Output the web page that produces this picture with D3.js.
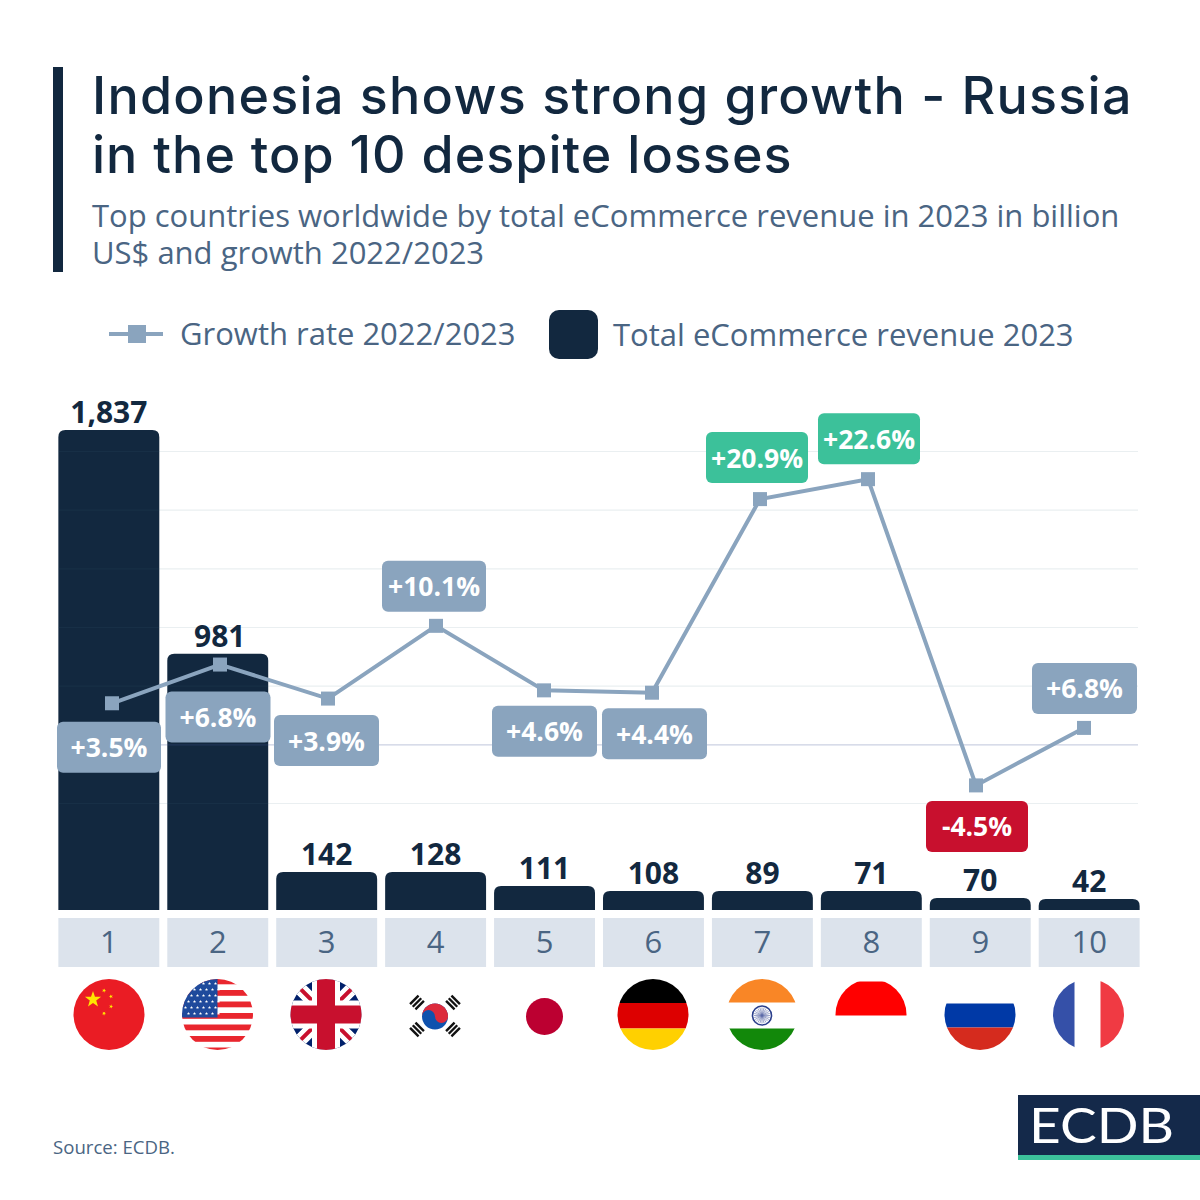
<!DOCTYPE html>
<html>
<head>
<meta charset="utf-8">
<script src="https://cdn.jsdelivr.net/npm/d3@7"></script>
<style>
  html, body { margin: 0; padding: 0; background: #fff; }
  svg { display: block; }
  text { font-family: "Open Sans", sans-serif; }
</style>
</head>
<body>
<svg id="chart" width="1200" height="1200"></svg>
<script>
const ranks = ['1', '2', '3', '4', '5', '6', '7', '8', '9', '10'];
const flags = ['cn', 'us', 'gb', 'kr', 'jp', 'de', 'in', 'id', 'ru', 'fr'];
const revenueLabels = ['1,837', '981', '142', '128', '111', '108', '89', '71', '70', '42'];
// bar heights as drawn in the picture (small bars are not exactly to scale there)
const revenueDrawn = [1837, 981, 145, 145, 92, 73, 73, 73, 46, 42];
const growthLabels = ['+3.5%', '+6.8%', '+3.9%', '+10.1%', '+4.6%', '+4.4%', '+20.9%', '+22.6%', '-4.5%', '+6.8%'];
// line positions as drawn, the last two sit away from their printed labels
const growthDrawn = [3.5, 6.8, 3.9, 10.1, 4.6, 4.4, 20.9, 22.6, -3.5, 1.4];
const gridTicks = [-5, 0, 5, 10, 15, 20, 25];

const navy = '#12283f';
const slate = '#4a6583';
const steel = '#8aa4be';
const green = '#3cc19a';
const red = '#c8102e';

const svg = d3.select('#chart');

// header
svg.append('rect').attr('x', 53).attr('y', 67).attr('width', 10).attr('height', 205).attr('fill', navy);
const titleLines = ['Indonesia shows strong growth - Russia', 'in the top 10 despite losses'];
const titleSpacing = [1.25, 1.02];
titleLines.forEach((t, i) => {
  svg.append('text').attr('x', 92).attr('y', 114 + i * 59)
    .attr('font-size', 52).attr('font-weight', 500).attr('fill', navy)
    .style('font-family', 'Inter, sans-serif')
    .attr('letter-spacing', titleSpacing[i])
    .text(t);
});
const subLines = ['Top countries worldwide by total eCommerce revenue in 2023 in billion', 'US$ and growth 2022/2023'];
subLines.forEach((t, i) => {
  svg.append('text').attr('x', 92).attr('y', 227 + i * 37)
    .attr('font-size', 31).attr('fill', slate).text(t);
});

// legend
svg.append('line').attr('x1', 109).attr('x2', 163).attr('y1', 334).attr('y2', 334)
  .attr('stroke', steel).attr('stroke-width', 4);
svg.append('rect').attr('x', 128).attr('y', 325).attr('width', 18).attr('height', 18).attr('fill', steel);
svg.append('text').attr('x', 180).attr('y', 345).attr('font-size', 31).attr('fill', slate).text('Growth rate 2022/2023');
svg.append('rect').attr('x', 549).attr('y', 310).attr('width', 49).attr('height', 49).attr('rx', 10).attr('fill', navy);
svg.append('text').attr('x', 613).attr('y', 346).attr('font-size', 31).attr('fill', slate).text('Total eCommerce revenue 2023');

// scales
const x = d3.scaleBand().domain(ranks).range([54, 1144]).paddingInner(8 / 109).paddingOuter(0.04);
const yBar = d3.scaleLinear().domain([0, 1837]).range([910, 430]);
const xLine = d3.scalePoint().domain(ranks).range([112, 1084]);
const yLine = d3.scaleLinear().domain([-5, 25]).range([803, 451]);

// bars, rounded on top only
function barPath(d, i) {
  const x0 = x(ranks[i]), w = x.bandwidth(), y0 = yBar(d), y1 = yBar(0);
  const r = Math.min(7, y1 - y0);
  return `M${x0},${y1}V${y0 + r}Q${x0},${y0} ${x0 + r},${y0}H${x0 + w - r}Q${x0 + w},${y0} ${x0 + w},${y0 + r}V${y1}Z`;
}
svg.append('g').selectAll('path').data(revenueDrawn).join('path')
  .attr('d', barPath).attr('fill', navy);

// grid goes over the bars, very faint there
const grid = svg.append('g')
  .attr('transform', 'translate(58,0)')
  .call(d3.axisRight(yLine).tickValues(gridTicks).tickSize(1080).tickFormat(''));
grid.select('.domain').remove();
grid.selectAll('line')
  .attr('stroke', d => d === 0 ? 'rgba(70,90,150,0.28)' : 'rgba(60,110,130,0.11)')
  .attr('stroke-width', 1.2);

// value labels
svg.append('g').selectAll('text').data(revenueLabels).join('text')
  .attr('x', (d, i) => x(ranks[i]) + x.bandwidth() / 2 + (i === 1 ? 2 : 0))
  .attr('y', (d, i) => yBar(revenueDrawn[i]) - 7)
  .attr('text-anchor', 'middle').attr('font-size', 30).attr('font-weight', 700).attr('fill', navy)
  .text(d => d);

// growth line
const line = d3.line().x((d, i) => xLine(ranks[i])).y(d => yLine(d));
svg.append('path').datum(growthDrawn).attr('d', line)
  .attr('fill', 'none').attr('stroke', steel).attr('stroke-width', 4);
svg.append('g').selectAll('rect').data(growthDrawn).join('rect')
  .attr('x', (d, i) => xLine(ranks[i]) - 7).attr('y', d => yLine(d) - 7)
  .attr('width', 14).attr('height', 14).attr('fill', steel);

// growth label boxes, offset from their points like in the original
const labelDx = [-3, -2, -1.5, -2, 0.5, 2.5, -3, 1, 1, 0.5];
const labelDy = [44, 52.5, 42, -39.5, 41, 41, -41.5, -40.5, 41, -39.5];
const labelW = [104, 105, 105, 104, 105, 105, 102, 102, 102, 105];
const labelColor = (d, i) => i === 6 || i === 7 ? green : i === 8 ? red : steel;
const labels = svg.append('g').selectAll('g').data(growthLabels).join('g')
  .attr('transform', (d, i) => `translate(${xLine(ranks[i]) + labelDx[i]},${yLine(growthDrawn[i]) + labelDy[i]})`);
labels.append('rect')
  .attr('x', (d, i) => -labelW[i] / 2).attr('y', -25.5)
  .attr('width', (d, i) => labelW[i]).attr('height', 51).attr('rx', 6)
  .attr('fill', labelColor);
labels.append('text').attr('text-anchor', 'middle').attr('y', 10)
  .attr('font-size', 26.5).attr('font-weight', 700).attr('fill', '#fff').text(d => d);

// rank tiles
svg.append('g').selectAll('rect').data(ranks).join('rect')
  .attr('x', d => x(d)).attr('y', 918).attr('width', x.bandwidth()).attr('height', 49).attr('fill', '#dce3ec');
svg.append('g').selectAll('text').data(ranks).join('text')
  .attr('x', d => x(d) + x.bandwidth() / 2).attr('y', 953)
  .attr('text-anchor', 'middle').attr('font-size', 31).attr('fill', slate).text(d => d);

// flags, each drawn in a box around (0,0) and clipped to a circle of r 35
const defs = svg.append('defs');
defs.append('clipPath').attr('id', 'flagClip').append('circle').attr('r', 35.5);

const rect = (g, x0, y0, w, h, fill) => g.append('rect').attr('x', x0).attr('y', y0).attr('width', w).attr('height', h).attr('fill', fill);

function star(g, cx, cy, r, fill, rot = 0) {
  const pts = d3.range(10).map(k => {
    const a = -Math.PI / 2 + rot + k * Math.PI / 5;
    const rr = k % 2 ? r * 0.4 : r;
    return [cx + rr * Math.cos(a), cy + rr * Math.sin(a)].join(',');
  });
  g.append('polygon').attr('points', pts.join(' ')).attr('fill', fill);
}

const drawFlag = {
  cn(g) {
    rect(g, -36, -36, 72, 72, '#ea1c24');
    star(g, -16, -15, 8.5, '#ffe600');
    star(g, -5, -24, 2.2, '#ffe600', 0.5);
    star(g, 2, -18, 2.2, '#ffe600', 0.9);
    star(g, 2, -8, 2.2, '#ffe600', 0.2);
    star(g, -5, -1, 2.2, '#ffe600', 0.6);
  },
  us(g) {
    rect(g, -36, -36, 72, 72, '#fff');
    d3.range(7).forEach(k => rect(g, -36, -36 + k * 11.5, 72, 5.8, '#e9262e'));
    rect(g, -36, -36, 36, 39, '#1f4a9c');
    d3.range(6).forEach(r => d3.range(6).forEach(c => {
      star(g, -32 + c * 6 + (r % 2 ? 3 : 0), -31 + r * 6, 1.7, '#fff');
    }));
  },
  gb(g) {
    rect(g, -36, -36, 72, 72, '#00206b');
    g.append('path').attr('d', 'M-36,-36L36,36M36,-36L-36,36').attr('stroke', '#fff').attr('stroke-width', 13);
    g.append('path').attr('d', 'M-36,-36L0,0M36,36L0,0').attr('stroke', '#c8102e').attr('stroke-width', 4);
    g.append('path').attr('d', 'M36,-36L0,0M-36,36L0,0').attr('stroke', '#c8102e').attr('stroke-width', 4);
    rect(g, -14, -36, 28, 72, '#fff');
    rect(g, -36, -14, 72, 28, '#fff');
    rect(g, -9, -36, 18, 72, '#c8102e');
    rect(g, -36, -9, 72, 18, '#c8102e');
  },
  kr(g) {
    g.append('circle').attr('r', 13).attr('cy', 2).attr('fill', '#0f52ae');
    g.append('path').attr('d', 'M-13,2A13,13 0 0 1 13,2A6.5,6.5 0 0 1 0,2A6.5,6.5 0 0 0 -13,2Z').attr('fill', '#dc2a3c');
    [[-18, -12, -45], [18, -12, 45], [-18, 15, 45], [18, 15, -45]].forEach(([cx, cy, a]) => {
      const t = g.append('g').attr('transform', `translate(${cx},${cy}) rotate(${a})`);
      d3.range(3).forEach(k => rect(t, -6, -5 + k * 3.8, 12, 2.4, '#111'));
    });
  },
  jp(g) {
    g.append('circle').attr('cy', 2).attr('r', 18.5).attr('fill', '#bc0031');
  },
  de(g) {
    rect(g, -36, -36, 72, 24.5, '#000');
    rect(g, -36, -11.5, 72, 25.5, '#dd0000');
    rect(g, -36, 14, 72, 24, '#ffd000');
  },
  in(g) {
    rect(g, -36, -36, 72, 24, '#f98626');
    rect(g, -36, 14, 72, 24, '#12880a');
    g.append('circle').attr('cy', 1).attr('r', 9.5).attr('fill', 'none').attr('stroke', '#2b3f8c').attr('stroke-width', 1.6);
    d3.range(12).forEach(k => {
      const a = k * Math.PI / 12;
      g.append('line').attr('x1', -8 * Math.cos(a)).attr('x2', 8 * Math.cos(a))
        .attr('y1', 1 - 8 * Math.sin(a)).attr('y2', 1 + 8 * Math.sin(a))
        .attr('stroke', '#5a6aa8').attr('stroke-width', 0.6);
    });
  },
  id(g) {
    rect(g, -36, -33, 72, 34, '#ff0000');
  },
  ru(g) {
    rect(g, -36, -11, 72, 24, '#0039a6');
    rect(g, -36, 13, 72, 24, '#d52b1e');
  },
  fr(g) {
    rect(g, -36, -36, 22, 72, '#3550a8');
    rect(g, 12, -36, 24, 72, '#f03a43');
  }
};

const flagCx = [109, 217.5, 326, 435, 544.5, 653, 762, 871, 980, 1088.5];
flags.forEach((f, i) => {
  const g = svg.append('g').attr('transform', `translate(${flagCx[i]},1014.5)`).attr('clip-path', 'url(#flagClip)');
  drawFlag[f](g);
});

// footer
svg.append('text').attr('x', 53).attr('y', 1154).attr('font-size', 18.6).attr('fill', slate).text('Source: ECDB.');
svg.append('rect').attr('x', 1018).attr('y', 1095).attr('width', 182).attr('height', 60).attr('fill', '#14294a');
svg.append('rect').attr('x', 1018).attr('y', 1155).attr('width', 182).attr('height', 5).attr('fill', green);
svg.append('text').attr('x', 1029).attr('y', 1143).attr('font-size', 49).attr('font-weight', 400)
  .style('font-family', 'Lato, sans-serif').attr('fill', '#fff')
  .attr('textLength', 145).attr('lengthAdjust', 'spacingAndGlyphs').text('ECDB');
</script>
</body>
</html>
